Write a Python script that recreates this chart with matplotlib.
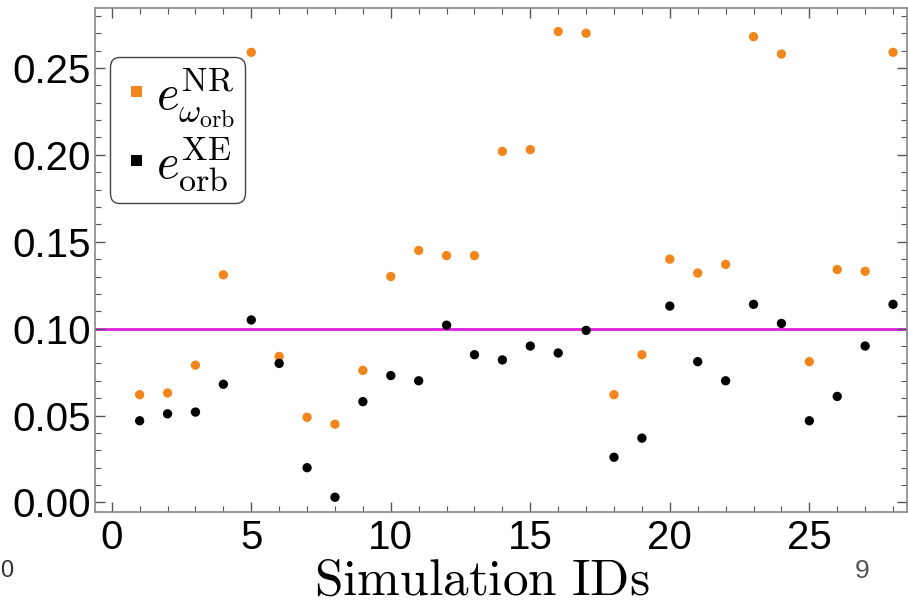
import matplotlib.pyplot as plt
from matplotlib.ticker import MultipleLocator

plt.rcParams['mathtext.fontset'] = 'cm'
plt.rcParams['font.family'] = ['Liberation Sans', 'DejaVu Sans']

sim_ids = list(range(1, 29))
e_nr = [0.062, 0.063, 0.079, 0.131, 0.259, 0.084, 0.049, 0.045, 0.076, 0.130,
        0.145, 0.142, 0.142, 0.202, 0.203, 0.271, 0.270, 0.062, 0.085, 0.140,
        0.132, 0.137, 0.268, 0.258, 0.081, 0.134, 0.133, 0.259]
e_xe = [0.047, 0.051, 0.052, 0.068, 0.105, 0.080, 0.020, 0.003, 0.058, 0.073,
        0.070, 0.102, 0.085, 0.082, 0.090, 0.086, 0.099, 0.026, 0.037, 0.113,
        0.081, 0.070, 0.114, 0.103, 0.047, 0.061, 0.090, 0.114]
threshold = 0.10

orange = '#f2861a'
magenta = '#e01ee0'
frame = '#888888'

fig = plt.figure(figsize=(9.08, 6.15), dpi=100)
ax = fig.add_axes([95 / 908, 1 - 512 / 615, 812 / 908, 504 / 615])

ax.axhline(threshold, color=magenta, linewidth=2, zorder=1)
ax.scatter(sim_ids, e_nr, s=45, color=orange, edgecolors='none', zorder=3,
           label=r'$e^{\mathrm{NR}}_{\omega_{\mathrm{orb}}}$')
ax.scatter(sim_ids, e_xe, s=45, color='black', edgecolors='none', zorder=3,
           label=r'$e^{\mathrm{XE}}_{\mathrm{orb}}$')

ax.set_xlim(-0.6, 28.5)
ax.set_ylim(-0.0055, 0.2845)
ax.xaxis.set_major_locator(MultipleLocator(5))
ax.xaxis.set_minor_locator(MultipleLocator(1))
ax.yaxis.set_major_locator(MultipleLocator(0.05))
ax.yaxis.set_minor_locator(MultipleLocator(0.01))
ax.yaxis.set_major_formatter(plt.FormatStrFormatter('%.2f'))
ax.tick_params(which='both', direction='in', top=True, right=True,
               color='#555555', labelsize=29, pad=3)
ax.tick_params(axis='x', pad=5)
ax.tick_params(which='major', length=7, width=1)
ax.tick_params(which='minor', length=4, width=0.8)
for sp in ax.spines.values():
    sp.set_color(frame)
    sp.set_linewidth(1.2)

ax.set_xlabel(r'$\mathrm{Simulation\ IDs}$', fontsize=37, labelpad=0)
ax.xaxis.label.set_x(0.476)

leg = ax.legend(loc='upper left', bbox_to_anchor=(0.018, 0.903), fontsize=35,
                borderaxespad=0, markerscale=1.0, handletextpad=0.25,
                handlelength=0.5, labelspacing=0.12, borderpad=0.2,
                fancybox=True, edgecolor='#444444', framealpha=1)
for h in leg.legend_handles:
    h.set_sizes([60])
    h.set_paths([plt.matplotlib.path.Path.unit_rectangle()])
leg.get_frame().set_linewidth(1.0)

fig.text(0.0, 0.072, '0', fontsize=17, color='#333333', va='center')
fig.text(0.941, 0.072, '9', fontsize=19, color='#555555', va='center')

fig.savefig('out.png', dpi=100)
